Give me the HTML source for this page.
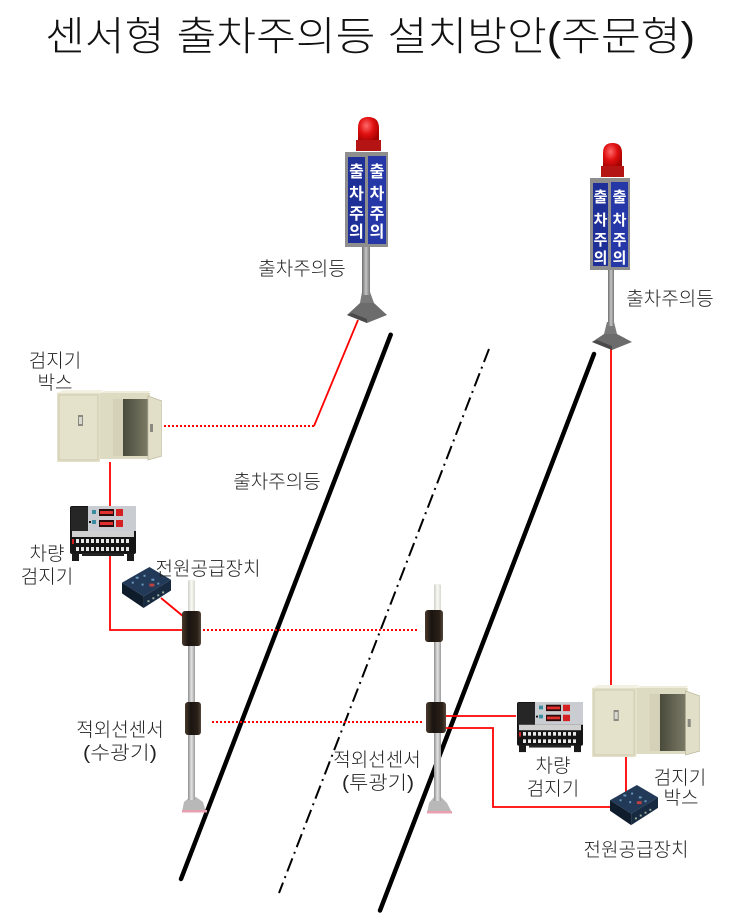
<!DOCTYPE html>
<html><head><meta charset="utf-8">
<style>
html,body{margin:0;padding:0;background:#fff;}
svg{display:block;}
text{font-family:"Liberation Sans","Noto Sans CJK KR",sans-serif;}
</style></head>
<body>
<svg width="730" height="922" viewBox="0 0 730 922" xmlns="http://www.w3.org/2000/svg">
<defs>
  <linearGradient id="pole" x1="0" x2="1" y1="0" y2="0">
    <stop offset="0" stop-color="#8e8e8e"/><stop offset="0.5" stop-color="#e4e4e4"/><stop offset="1" stop-color="#9a9a9a"/>
  </linearGradient>
  <linearGradient id="poleTop" x1="0" x2="1" y1="0" y2="0">
    <stop offset="0" stop-color="#cfcfc8"/><stop offset="0.5" stop-color="#fbfbf6"/><stop offset="1" stop-color="#d8d8d0"/>
  </linearGradient>
  <linearGradient id="lpole" x1="0" x2="1" y1="0" y2="0">
    <stop offset="0" stop-color="#6f6f6f"/><stop offset="0.5" stop-color="#c4c4c4"/><stop offset="1" stop-color="#777"/>
  </linearGradient>
  <linearGradient id="sens" x1="0" x2="1" y1="0" y2="0">
    <stop offset="0" stop-color="#4a3a2c"/><stop offset="0.35" stop-color="#1a1410"/><stop offset="0.8" stop-color="#2a2018"/><stop offset="1" stop-color="#55473a"/>
  </linearGradient>
  <radialGradient id="dome" cx="0.4" cy="0.35" r="0.7">
    <stop offset="0" stop-color="#ff6a6a"/><stop offset="0.5" stop-color="#e01010"/><stop offset="1" stop-color="#a00000"/>
  </radialGradient>
  <linearGradient id="inner" x1="0" x2="1" y1="0" y2="0">
    <stop offset="0" stop-color="#4a4a3c"/><stop offset="1" stop-color="#7a7a66"/>
  </linearGradient>

  <symbol id="ctrl" viewBox="0 0 66 56" preserveAspectRatio="none">
    <rect x="0" y="0" width="66" height="48" rx="2" fill="#151515"/>
    <rect x="1" y="1" width="17" height="24" fill="#262626"/>
    <rect x="18" y="0" width="48" height="25" fill="#c9cdd2"/>
    <rect x="22" y="4" width="4" height="4" fill="#3a8aa0"/>
    <rect x="22" y="14" width="4" height="4" fill="#3a8aa0"/>
    <rect x="29" y="3" width="15" height="7" fill="#2a0c0c"/>
    <rect x="30" y="5" width="13" height="3" fill="#e03030"/>
    <rect x="46" y="3" width="7" height="7" fill="#d42020"/>
    <rect x="29" y="14" width="15" height="7" fill="#2a0c0c"/>
    <rect x="30" y="16" width="13" height="3" fill="#e03030"/>
    <rect x="46" y="14" width="7" height="7" fill="#d42020"/>
    <rect x="19" y="15" width="2" height="2" fill="#111"/>
    <rect x="2" y="25" width="62" height="6" fill="#d0d0d0"/>
    <g fill="#e8e8e8">
      <rect x="6" y="33" width="3" height="4"/><rect x="11" y="33" width="3" height="4"/><rect x="16" y="33" width="3" height="4"/><rect x="21" y="33" width="3" height="4"/><rect x="26" y="33" width="3" height="4"/><rect x="31" y="33" width="3" height="4"/><rect x="36" y="33" width="3" height="4"/><rect x="41" y="33" width="3" height="4"/><rect x="46" y="33" width="3" height="4"/><rect x="51" y="33" width="3" height="4"/><rect x="56" y="33" width="3" height="4"/>
      <rect x="6" y="41" width="3" height="4"/><rect x="11" y="41" width="3" height="4"/><rect x="16" y="41" width="3" height="4"/><rect x="21" y="41" width="3" height="4"/><rect x="26" y="41" width="3" height="4"/><rect x="31" y="41" width="3" height="4"/><rect x="36" y="41" width="3" height="4"/><rect x="41" y="41" width="3" height="4"/><rect x="46" y="41" width="3" height="4"/><rect x="51" y="41" width="3" height="4"/><rect x="56" y="41" width="3" height="4"/>
    </g>
    <rect x="2" y="33" width="2" height="5" fill="#d02020"/>
    <rect x="2" y="47" width="7" height="8" fill="#1a1a1a"/>
    <rect x="57" y="47" width="7" height="8" fill="#1a1a1a"/>
    <rect x="12" y="47" width="42" height="3" fill="#222"/>
  </symbol>

  <symbol id="psu" viewBox="0 0 50 44" preserveAspectRatio="none">
    <polygon points="0,16 28,0 50,13 22,30" fill="#223a58"/>
    <polygon points="0,16 22,30 22,42 0,27" fill="#0f1c2c"/>
    <polygon points="22,30 50,13 50,24 22,42" fill="#172a40"/>
    <g fill="#6a9ac0">
      <rect x="14" y="10" width="3" height="2"/><rect x="22" y="8" width="2" height="2"/><rect x="30" y="12" width="3" height="2"/><rect x="20" y="17" width="2" height="2"/><rect x="36" y="16" width="2" height="2"/><rect x="10" y="15" width="2" height="2"/>
    </g>
    <rect x="28" y="17" width="5" height="3" fill="#c04040"/>
    <g fill="#9fb0a0"><rect x="26" y="34" width="2" height="2"/><rect x="31" y="31" width="2" height="2"/><rect x="36" y="28" width="2" height="2"/><rect x="41" y="25" width="2" height="2"/></g>
  </symbol>

  <symbol id="box" viewBox="0 0 105 72" preserveAspectRatio="none">
    <polygon points="0,3 6,0 46,0 43,3" fill="#f2f0e0"/>
    <rect x="0" y="3" width="43" height="69" fill="#e5e2cb"/>
    <rect x="2" y="5" width="39" height="65" fill="none" stroke="#cfcbb0" stroke-width="1"/>
    <rect x="21" y="25" width="5" height="11" fill="#8a8a80"/>
    <rect x="22" y="27" width="3" height="7" fill="#d8d8d0"/>
    <polygon points="43,3 47,1 94,1 90,4" fill="#efecdc"/>
    <rect x="43" y="3" width="50" height="66" fill="#dedbc3"/>
    <rect x="66" y="9" width="25" height="57" fill="url(#inner)"/>
    <rect x="56" y="9" width="10" height="57" fill="#d4d1b8"/>
    <polygon points="91,6 105,11 105,66 91,70" fill="#e2dfc8" stroke="#bdb99e" stroke-width="0.8"/>
    <rect x="93" y="34" width="3" height="8" fill="#8a8a80"/>
  </symbol>
</defs>

<!-- Title -->
<text x="370" y="50" font-size="40" font-weight="300" text-anchor="middle" textLength="650" lengthAdjust="spacingAndGlyphs" fill="#111">센서형 출차주의등 설치방안(주문형)</text>

<!-- Road lines -->
<line x1="390.7" y1="334.7" x2="181" y2="879" stroke="#000" stroke-width="4.5" stroke-linecap="round"/>
<line x1="594" y1="354" x2="380" y2="910.5" stroke="#000" stroke-width="4.5" stroke-linecap="round"/>
<line x1="489" y1="349" x2="279" y2="893" stroke="#000" stroke-width="2" stroke-dasharray="14 5 2 5"/>

<!-- Red wiring -->
<g stroke="#ff0000" stroke-width="1.8" fill="none">
  <polyline points="358,320 314,426"/>
  <line x1="314" y1="426" x2="163" y2="426" stroke-dasharray="2 2" stroke-width="2"/>
  <line x1="611" y1="345" x2="611" y2="686"/>
  <line x1="110" y1="462" x2="110" y2="506"/>
  <polyline points="110,548 110,630 183,630"/>
  <line x1="161" y1="598" x2="184" y2="617"/>
  <line x1="203" y1="630" x2="418" y2="630" stroke-dasharray="2 2" stroke-width="2"/>
  <line x1="212" y1="722" x2="422" y2="722" stroke-dasharray="2 2" stroke-width="2"/>
  <line x1="446" y1="716" x2="516" y2="716"/>
  <polyline points="446,728 493,728 493,807 614,807"/>
  <line x1="626" y1="752" x2="626" y2="792"/>
</g>

<!-- Left light -->
<polygon points="347,315 360,303 374,303 387,315 367,323" fill="#6c6c6c"/>
<polygon points="347,315 367,323 367,319 352,313" fill="#4a4a4a"/>
<polygon points="360,303 362,292 370,292 374,303" fill="#7a7a7a"/>
<rect x="362" y="245" width="8" height="50" fill="url(#lpole)"/>
<rect x="345" y="152" width="43" height="95" fill="#8e8e8e"/>
<rect x="348" y="157" width="17" height="86" fill="#1f2f98"/>
<rect x="368" y="156" width="18" height="88" fill="#2638a8"/>
<g font-size="16" font-weight="bold" fill="#fff" text-anchor="middle">
  <text x="356.5" y="177">출</text><text x="356.5" y="199">차</text><text x="356.5" y="219">주</text><text x="356.5" y="237">의</text>
  <text x="377" y="177">출</text><text x="377" y="199">차</text><text x="377" y="219">주</text><text x="377" y="237">의</text>
</g>
<path d="M358,142 L358,128 Q358,117 368,117 Q379,117 379,128 L379,142 Z" fill="url(#dome)"/>
<rect x="356" y="140" width="25" height="11" fill="#b41414"/>

<!-- Right light -->
<polygon points="592,342 604,334 617,334 632,342 612,350" fill="#6c6c6c"/>
<polygon points="592,342 612,350 612,346 597,340" fill="#4a4a4a"/>
<polygon points="604,334 607,322 614,322 617,334" fill="#7a7a7a"/>
<rect x="608" y="268" width="6" height="58" fill="url(#lpole)"/>
<rect x="590" y="178" width="40" height="92" fill="#8e8e8e"/>
<rect x="593" y="183" width="15" height="83" fill="#1f2f98"/>
<rect x="611" y="182" width="17" height="85" fill="#2638a8"/>
<g font-size="15" font-weight="bold" fill="#fff" text-anchor="middle">
  <text x="600.5" y="202">출</text><text x="600.5" y="225">차</text><text x="600.5" y="245">주</text><text x="600.5" y="263">의</text>
  <text x="619.5" y="202">출</text><text x="619.5" y="225">차</text><text x="619.5" y="245">주</text><text x="619.5" y="263">의</text>
</g>
<path d="M603,168 L603,153 Q603,143 612.5,143 Q622,143 622,153 L622,168 Z" fill="url(#dome)"/>
<rect x="601" y="166" width="23" height="11" fill="#b41414"/>

<!-- Left detector box, controller, psu -->
<use href="#box" x="57" y="390" width="105" height="72"/>
<use href="#ctrl" x="70" y="506" width="66" height="56"/>
<use href="#psu" x="122" y="567" width="49" height="43"/>

<!-- Right detector box, controller, psu -->
<use href="#box" x="592" y="685" width="108" height="72"/>
<use href="#ctrl" x="517" y="702" width="66" height="51"/>
<use href="#psu" x="610" y="785" width="48" height="42"/>

<!-- Left sensor pole -->
<polygon points="182,812 184,802 190,797 196,797 203,802 206,812" fill="#b8b8b8"/>
<rect x="182" y="810" width="25" height="2.5" fill="#e8a0b0"/>
<rect x="188" y="640" width="7" height="160" fill="url(#pole)"/>
<rect x="188" y="580" width="7" height="33" rx="2" fill="url(#poleTop)"/>
<rect x="182" y="611" width="19" height="35" rx="3" fill="url(#sens)"/>
<rect x="185" y="702" width="16" height="33" rx="3" fill="url(#sens)"/>

<!-- Middle sensor pole -->
<polygon points="427,813 429,803 434,797 441,797 447,803 452,813" fill="#b8b8b8"/>
<rect x="427" y="811" width="25" height="2.5" fill="#e8a0b0"/>
<rect x="434" y="636" width="7" height="165" fill="url(#pole)"/>
<rect x="434" y="584" width="7" height="28" rx="2" fill="url(#poleTop)"/>
<rect x="425" y="610" width="18" height="32" rx="3" fill="url(#sens)"/>
<rect x="426" y="702" width="20" height="31" rx="3" fill="url(#sens)"/>

<!-- Labels -->
<g font-size="19" font-weight="300" fill="#222" text-anchor="middle">
  <text x="302" y="275">출차주의등</text>
  <text x="670" y="305">출차주의등</text>
  <text x="277" y="488">출차주의등</text>
  <text x="55" y="367">검지기</text>
  <text x="55" y="389">박스</text>
  <text x="47" y="560">차량</text>
  <text x="47" y="583">검지기</text>
  <text x="208" y="575">전원공급장치</text>
  <text x="120" y="736">적외선센서</text>
  <text x="120" y="759" textLength="74" lengthAdjust="spacingAndGlyphs">(수광기)</text>
  <text x="377" y="766">적외선센서</text>
  <text x="378" y="789" textLength="72" lengthAdjust="spacingAndGlyphs">(투광기)</text>
  <text x="553" y="772">차량</text>
  <text x="553" y="795">검지기</text>
  <text x="680" y="784">검지기</text>
  <text x="681" y="804">박스</text>
  <text x="636" y="856">전원공급장치</text>
</g>
</svg>
</body></html>
